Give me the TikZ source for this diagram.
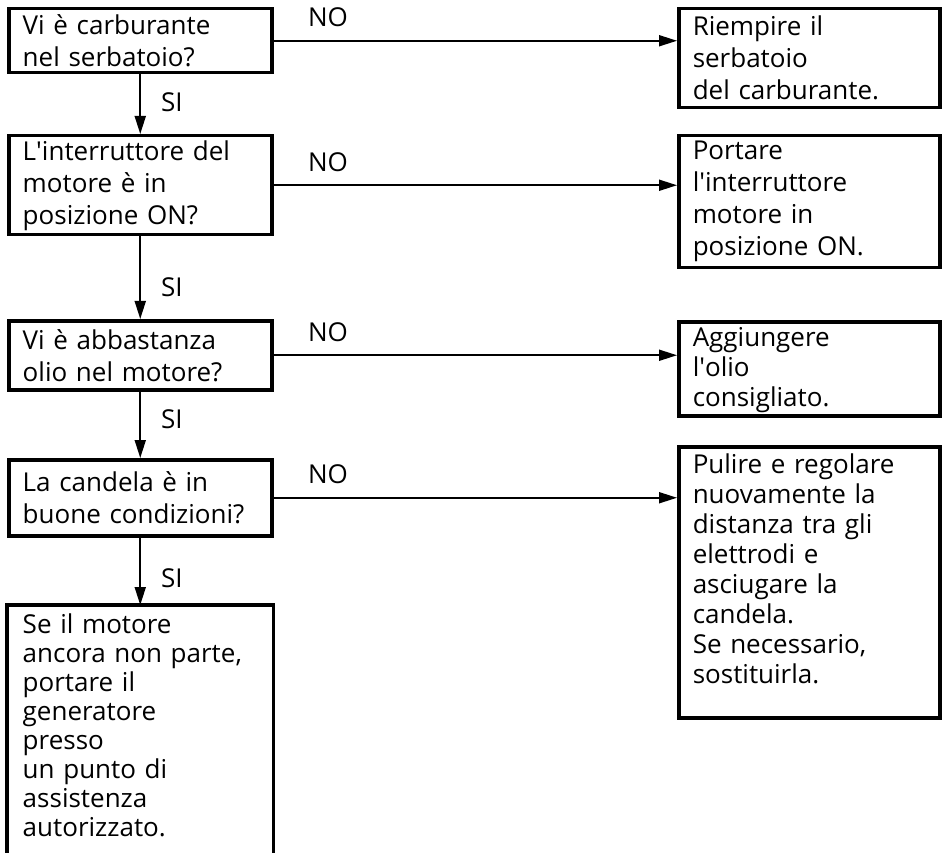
\documentclass[tikz,border=0pt]{standalone}
\usepackage{fontspec}
\setmainfont{Open Sans}
\usetikzlibrary{arrows.meta,positioning}

\tikzset{
  box/.style={draw, line width=3.5pt, anchor=north west, inner xsep=14pt, inner ysep=0pt, align=left},
  qbox/.style={box, minimum width=263pt, text width=235pt},
  abox/.style={box, minimum width=261pt, text width=233pt},
  lbl/.style={inner sep=0pt},
  flow/.style={->, line width=1.8pt},
}
\newcommand{\apo}{\textquotesingle}

\begin{document}
\begin{tikzpicture}[x=1pt,y=-1pt,>={Triangle[length=18pt,width=11pt]},font=\fontsize{26}{32}\selectfont]
    \clip (0,0) rectangle (943,853);
    % questions
    \node[qbox, minimum height=64pt] (q1) at (7,7) {Vi è carburante\\nel serbatoio?};
    \node[qbox, minimum height=99pt] (q2) at (7,134) {L\apo interruttore del\\motore è in\\posizione ON?};
    \node[qbox, minimum height=69pt] (q3) at (7,319) {Vi è abbastanza\\olio nel motore?};
    \node[qbox, minimum height=76pt] (q4) at (7,458) {La candela è in\\buone condizioni?};
    \node[qbox, draw=none, inner ysep=7pt, font=\fontsize{26}{29}\selectfont] (q5) at (7,605) {Se il motore\\ancora non parte,\\portare il\\generatore\\presso\\un punto di\\assistenza\\autorizzato.};
    \draw[line width=3.5pt] ([yshift=-40pt]q5.south west) |- (q5.north east) -- ([yshift=-40pt]q5.south east);
    % remedies
    \node[abox, minimum height=99pt] (a1) at (677,7) {Riempire il\\serbatoio\\del carburante.};
    \node[abox, minimum height=132pt] (a2) at (677,134) {Portare\\l\apo interruttore\\motore in\\posizione ON.};
    \node[abox, text height=25pt, text depth=69pt, font=\fontsize{26}{30}\selectfont] (a3) at (677,320) {Aggiungere\\l\apo olio\\consigliato.};
    \node[abox, text height=27pt, text depth=244pt, font=\fontsize{26}{30}\selectfont] (a4) at (677,445) {Pulire e regolare\\nuovamente la\\distanza tra gli\\elettrodi e\\asciugare la\\candela.\\Se necessario,\\sostituirla.};
    % SI
    \draw[flow] (q1) -- (q2) node[lbl, right=20pt, pos=0.46] (s1) {SI};
    \draw[flow] (q2) -- (q3) node[lbl, right=20pt, pos=0.62] (s2) {SI};
    \draw[flow] (q3) -- (q4) node[lbl, right=20pt, pos=0.42] (s3) {SI};
    \draw[flow] (q4) -- (q5.north) node[lbl, right=20pt, pos=0.6] (s4) {SI};
    % NO
    \foreach \i in {1,...,4}
      \draw[flow] (q\i.east) -- (q\i.east -| a\i.west) node[lbl, above=13pt, pos=0.135] (n\i) {NO};
\end{tikzpicture}
\end{document}
